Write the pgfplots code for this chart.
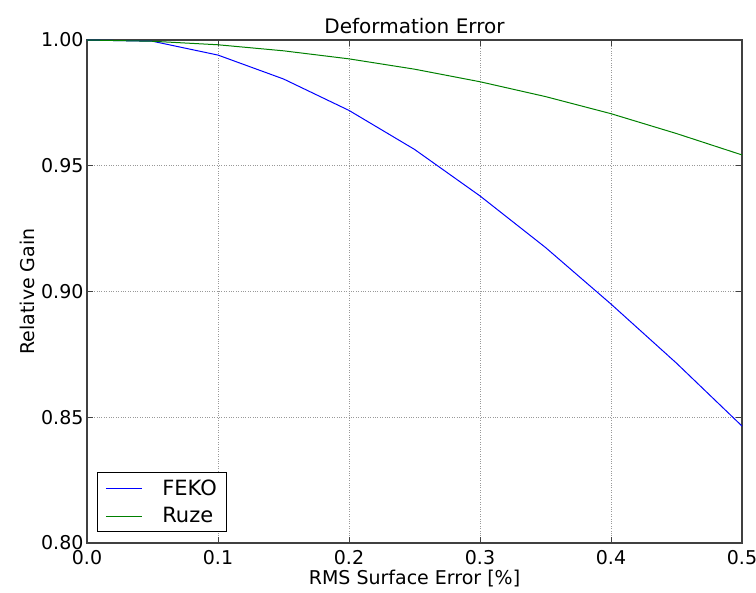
\documentclass[border=0pt]{standalone}
\usepackage{pgfplots}
\pgfplotsset{compat=1.18}
\usepackage{fontspec}
\setmainfont{DejaVu Sans}
\definecolor{mplblue}{rgb}{0,0,1}
\definecolor{mplgreen}{rgb}{0,0.5,0}
\begin{document}
\begin{tikzpicture}
\begin{axis}[
  name=main,
  scale only axis,
  width=655pt, height=503pt,
  xmin=0, xmax=0.5, ymin=0.80, ymax=1.00,
  xtick={0,0.1,0.2,0.3,0.4,0.5},
  ytick={0.80,0.85,0.90,0.95,1.00},
  xticklabel style={yshift=-4pt,/pgf/number format/.cd,fixed,fixed zerofill,precision=1},
  yticklabel style={/pgf/number format/.cd,fixed,fixed zerofill,precision=2},
  /pgf/number format/assume math mode=true,
  tick label style={font=\fontsize{19}{21}\selectfont},
  label style={font=\fontsize{19}{21}\selectfont},
  title style={font=\fontsize{20}{22}\selectfont, yshift=-3pt},
  title={Deformation Error},
  xlabel={RMS Surface Error [\%]},
  xlabel style={yshift=2pt},
  ylabel={Relative Gain},
  tick align=inside,
  major tick length=6pt,
  xtick pos=both, ytick pos=both,
  grid=major,
  major grid style={dotted, gray!80, line width=0.9pt},
  axis line style={line width=1.2pt, black!75},
  every tick/.style={black!75, line width=1pt},
  legend style={at={(0.015,0.022)}, anchor=south west, draw=black, line width=1pt,
    font=\fontsize{21}{24}\selectfont, inner xsep=8pt, inner ysep=5pt, row sep=7pt},
  legend cell align=left,
  legend image code/.code={\draw[#1] (0pt,0pt) -- (36pt,0pt);},
]
\addplot[mplblue, line width=1pt] coordinates {
 (0.0,1.0000) (0.05,0.9995) (0.10,0.9940) (0.15,0.9845) (0.20,0.9720)
 (0.25,0.9565) (0.30,0.9380) (0.35,0.9175) (0.40,0.8950) (0.45,0.8715) (0.50,0.8465)
};
\addlegendentry{\hspace{18pt}FEKO}
\addplot[mplgreen, line width=1pt] coordinates {
 (0.0,1.0000) (0.05,0.9995) (0.10,0.9981) (0.15,0.9957) (0.20,0.9925)
 (0.25,0.9884) (0.30,0.9834) (0.35,0.9775) (0.40,0.9707) (0.45,0.9628) (0.50,0.9543)
};
\addlegendentry{\hspace{18pt}Ruze}
\end{axis}
\pgfresetboundingbox
\path[use as bounding box] ([shift={(-87pt,-49pt)}]main.south west) rectangle ([shift={(14pt,40pt)}]main.north east);
\end{tikzpicture}
\end{document}
